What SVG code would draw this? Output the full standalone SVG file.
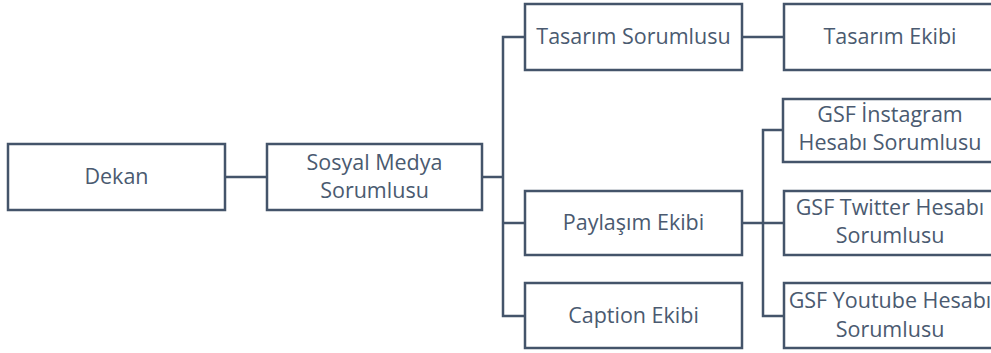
<svg xmlns="http://www.w3.org/2000/svg" width="991" height="353" viewBox="0 0 991 353">
<style>
.box{fill:#ffffff;stroke:#44546A;stroke-width:2.5}
.t{font-family:"Open Sans","Liberation Sans",sans-serif;font-size:21.5px;fill:#4A5A70;text-anchor:middle}
.c{fill:none;stroke:#44546A;stroke-width:2.5}
</style>
<rect width="991" height="353" fill="#ffffff"/>
<g id="connectors">
<path class="c" d="M225 177H267"/>
<path class="c" d="M482 177H503"/>
<path class="c" d="M525 37H503V316H525"/>
<path class="c" d="M503 223H525"/>
<path class="c" d="M742 37H784"/>
<path class="c" d="M742 223H784"/>
<path class="c" d="M783 130H763V316H784"/>
</g>
<g id="dekan"><rect class="box" x="8" y="144" width="217" height="66"/><text class="t" x="116.5" y="184">Dekan</text></g>
<g id="sosyal"><rect class="box" x="267" y="144" width="215" height="66"/><text class="t" x="374.5" y="170">Sosyal Medya</text><text class="t" x="374.5" y="198">Sorumlusu</text></g>
<g id="tasarim-sorumlusu"><rect class="box" x="525" y="4" width="217" height="66"/><text class="t" x="633.5" y="44">Tasarım Sorumlusu</text></g>
<g id="tasarim-ekibi"><rect class="box" x="784" y="4" width="217" height="66"/><text class="t" x="890" y="44">Tasarım Ekibi</text></g>
<g id="paylasim"><rect class="box" x="525" y="191" width="217" height="64"/><text class="t" x="633.5" y="230">Paylaşım Ekibi</text></g>
<g id="caption"><rect class="box" x="525" y="283" width="217" height="65"/><text class="t" x="633.5" y="323">Caption Ekibi</text></g>
<g id="instagram"><rect class="box" x="783" y="99" width="217" height="63"/><text class="t" x="890" y="122">GSF İnstagram</text><text class="t" x="890" y="150">Hesabı Sorumlusu</text></g>
<g id="twitter"><rect class="box" x="784" y="191" width="217" height="64"/><text class="t" x="890" y="215">GSF Twitter Hesabı</text><text class="t" x="890" y="243">Sorumlusu</text></g>
<g id="youtube"><rect class="box" x="784" y="283" width="217" height="65"/><text class="t" x="890" y="308">GSF Youtube Hesabı</text><text class="t" x="890" y="337">Sorumlusu</text></g>
</svg>
